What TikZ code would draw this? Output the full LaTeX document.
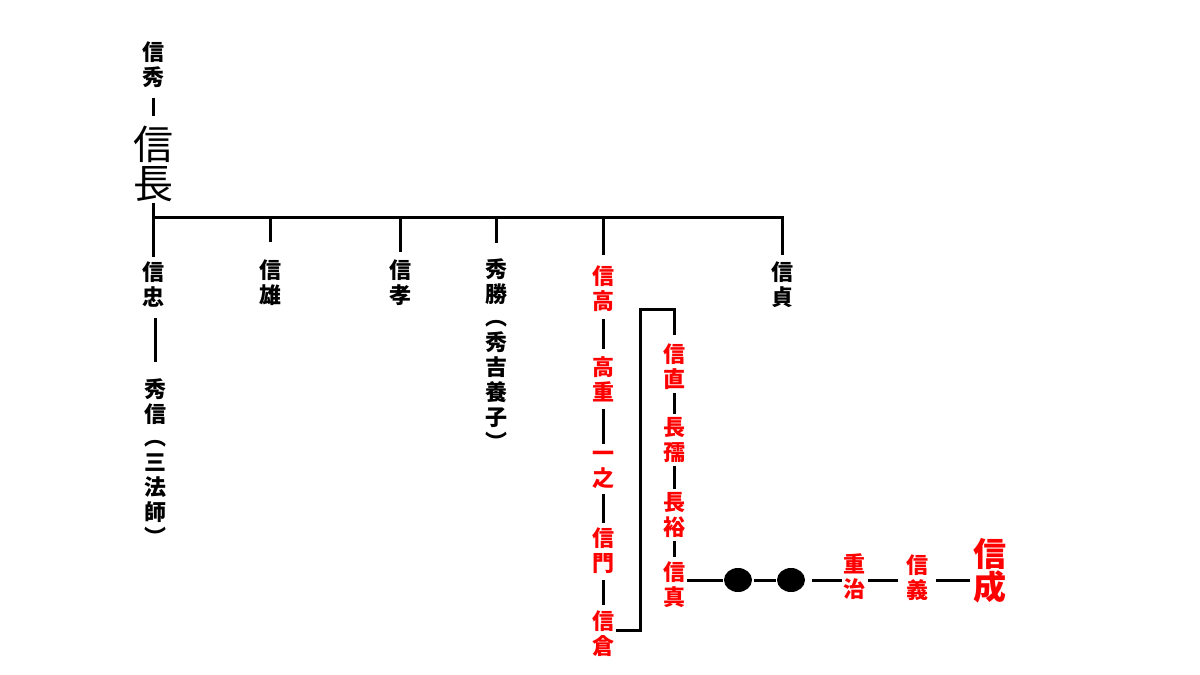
\documentclass[tikz,border=0pt]{standalone}
\usepackage{fontspec}
\newfontfamily\jp{Noto Sans CJK JP}
\usetikzlibrary{shapes, arrows.meta, positioning, calc}

\begin{document}
\begin{tikzpicture}[x=1pt, y=-1pt, line width=3pt,
    every node/.style={inner sep=0pt, align=center},
    small/.style={font=\jp\bfseries\fontsize{22}{25}\selectfont},
    big/.style={font=\jp\fontsize{40}{39}\selectfont},
    redname/.style={small, text=red},
    redbig/.style={font=\jp\bfseries\fontsize{33}{33}\selectfont, text=red},
    dot/.style={ellipse, fill=black, minimum width=28pt, minimum height=24pt}]
    \useasboundingbox (0,0) rectangle (1200,675);

    \node (Nobuhide) at (153, 65) [small] {信\\秀};
    \node (Nobunaga) at (153, 164) [big] {信\\長};
    \draw[shorten <=9pt, shorten >=9pt] (Nobuhide) -- (Nobunaga);

    \coordinate (Bar) at (153, 217);
    \node (Nobutada) at (153, 285) [small] {信\\忠};
    \node (Hidenobu) at (155, 402) [small] {秀\\信};
    \node (Sanboshi) at (155, 493) [small] {︵\\三\\法\\師\\︶};
    \node (Nobukatsu) at (270, 283) [small] {信\\雄};
    \node (NobutakaA) at (400, 283) [small] {信\\孝};
    \node (Hidekatsu) at (496, 282) [small] {秀\\勝};
    \node (Yoshi) at (496, 385) [small] {︵\\秀\\吉\\養\\子\\︶};
    \node (Nobusada) at (782, 285) [small] {信\\貞};

    \draw (Nobunaga.south) -- ([yshift=4pt]Nobutada.north);
    \draw (Bar) -- (Nobusada.north |- Bar) -- ([yshift=6pt]Nobusada.north);
    \draw[shorten >=17pt] (Nobukatsu.north |- Bar) -- (Nobukatsu.north);
    \draw[shorten >=7pt] (NobutakaA.north |- Bar) -- (NobutakaA.north);
    \draw[shorten >=15pt] (Hidekatsu.north |- Bar) -- (Hidekatsu.north);
    \draw[shorten <=9pt, shorten >=16pt] (Nobutada.south -| Hidenobu) -- (Hidenobu);

    \node (NobutakaB) at (603, 289) [redname] {信\\高};
    \node (Takashige) at (603, 379) [redname] {高\\重};
    \node (Kazuyuki) at (603, 470) [redname] {一\\之};
    \node (Nobukado) at (603, 551) [redname] {信\\門};
    \node (Nobukura) at (603, 634) [redname] {信\\倉};
    \draw[shorten >=10pt] (NobutakaB.north |- Bar) -- (NobutakaB.north);
    \draw[shorten <=6pt, shorten >=6pt] (NobutakaB) -- (Takashige);
    \draw[shorten <=6pt, shorten >=6pt] (Takashige) -- (Kazuyuki);
    \draw[shorten <=4pt, shorten >=4pt] (Kazuyuki) -- (Nobukado);
    \draw[shorten <=5pt, shorten >=5pt] (Nobukado) -- (Nobukura);

    \node (Nobunao) at (674, 367) [redname] {信\\直};
    \node (Nagayoshi) at (674, 440) [redname] {長\\孺};
    \node (Nagahiro) at (674, 515) [redname] {長\\裕};
    \node (Nobuzane) at (674, 585) [redname] {信\\真};
    \coordinate (Turn) at (640, 309);
    \draw ([yshift=4pt]Nobukura.east) -| (Turn) -| ([yshift=8pt]Nobunao.north);
    \draw[shorten <=2pt, shorten >=2pt] (Nobunao) -- (Nagayoshi);
    \draw[shorten <=2pt, shorten >=2pt] (Nagayoshi) -- (Nagahiro);
    \draw[shorten <=2pt, shorten >=4pt] (Nagahiro) -- (Nobuzane);

    \node (Dot1) at (738, 580) [dot] {};
    \node (Dot2) at (791, 580) [dot] {};
    \node (Shigeharu) at (854, 577) [redname] {重\\治};
    \node (Nobuyoshi) at (917, 578) [redname] {信\\義};
    \node (Nobunari) at (990, 571) [redbig] {信\\成};
    \draw[shorten <=5pt] (Nobuzane.east |- Dot1) -- (Dot1) -- (Dot2) -- (Shigeharu.west |- Dot1);
    \draw[shorten <=1pt, shorten >=7pt] (Shigeharu.east |- Dot1) -- (Nobuyoshi.west |- Dot1);
    \draw[shorten <=6pt, shorten >=2pt] (Nobuyoshi.east |- Dot1) -- (Nobunari.west |- Dot1);
\end{tikzpicture}
\end{document}
